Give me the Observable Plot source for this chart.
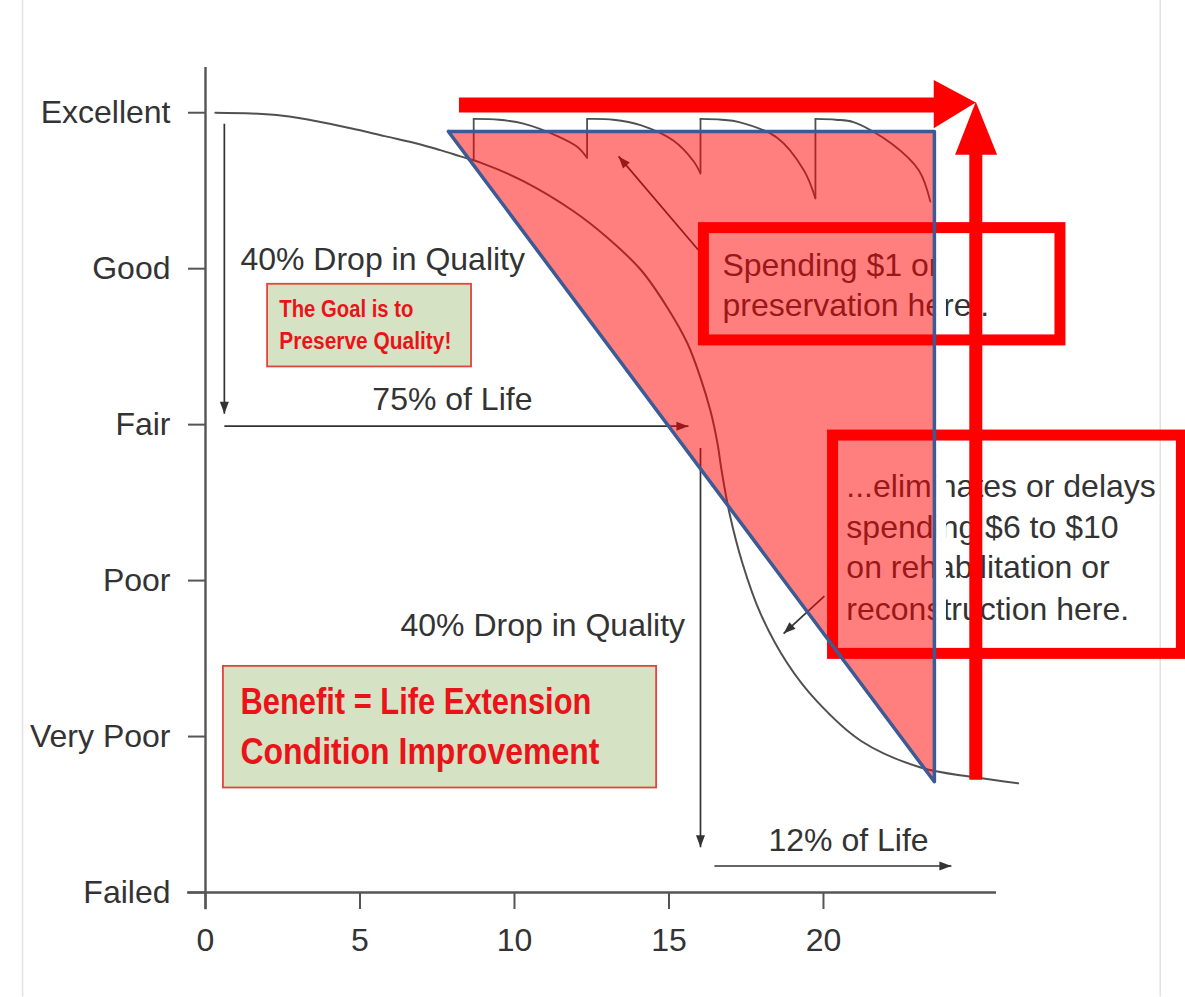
<!DOCTYPE html>
<html><head><meta charset="utf-8">
<script src="https://cdn.jsdelivr.net/npm/d3@7"></script>
<script src="https://cdn.jsdelivr.net/npm/@observablehq/plot@0.6"></script>
<style>body{margin:0;background:#fff;}</style>
</head><body><div id="chart"></div>
<script>
// ---- axes ----
const conditionTicks = [0, 1, 2, 3, 4, 5];
const conditionLabels = ["Failed", "Very Poor", "Poor", "Fair", "Good", "Excellent"];
const yearTicks = [0, 5, 10, 15, 20];

// ---- deterioration curve (years, condition) ----
const curveYears = [0.32, 1.5, 2.5, 3.6, 4.7, 5.8, 6.9, 7.6, 8.25, 8.9, 10.3, 11.9, 13.0, 14.1, 14.95, 15.6, 16.02, 16.34, 16.57, 16.7, 16.96, 17.38, 17.96, 18.83, 19.77, 21.23, 23.17, 24.85, 26.3];
const curveCondition = [5.0, 4.995, 4.98, 4.945, 4.9, 4.85, 4.8, 4.76, 4.72, 4.68, 4.56, 4.37, 4.2, 3.99, 3.75, 3.52, 3.3, 3.09, 2.88, 2.71, 2.43, 2.11, 1.79, 1.47, 1.23, 0.97, 0.8, 0.74, 0.7];

// ---- preservation cycles ----
const hump1Years = [8.68, 9.5, 10.29, 11.39, 12.04, 12.35];
const hump1Cond  = [4.96, 4.955, 4.93, 4.85, 4.78, 4.71];
const hump2Years = [12.35, 13.2, 14.08, 15.15, 15.79, 16.02];
const hump2Cond  = [4.96, 4.955, 4.92, 4.82, 4.69, 4.61];
const hump3Years = [16.02, 16.7, 17.27, 18.5, 19.37, 19.74];
const hump3Cond  = [4.96, 4.955, 4.94, 4.84, 4.63, 4.45];
const hump4Years = [19.74, 20.4, 20.97, 22.22, 23.09, 23.46];
const hump4Cond  = [4.96, 4.955, 4.94, 4.8, 4.63, 4.43];
const treatmentYears = [8.68, 12.35, 16.02, 19.74];
const treatmentFrom  = [4.69, 4.71, 4.61, 4.45];
const treatmentTo = 4.96;

// ---- annotation texts ----
const noteTexts = ["40% Drop in Quality", "75% of Life", "40% Drop in Quality", "12% of Life",
  "Spending $1 on", "preservation here..",
  "...eliminates or delays", "spending $6 to $10", "on rehabilitation or", "reconstruction here."];
const noteX = [1.13, 5.40, 6.31, 18.22, 16.73, 16.73, 20.74, 20.74, 20.74, 20.74];
const noteY = [4.06, 3.16, 1.71, 0.33, 4.02, 3.76, 2.60, 2.34, 2.08, 1.81];

const goalTexts = ["The Goal is to", "Preserve Quality!"];
const goalX = [2.39, 2.39];
const goalY = [3.74, 3.53];
const goalWidths = [134, 172];
const benefitTexts = ["Benefit = Life Extension", "Condition Improvement"];
const benefitX = [1.13, 1.13];
const benefitY = [1.22, 0.90];
const benefitWidths = [351, 359];

// thin arrows: x1,y1,x2,y2
const arrowX1 = [0.61, 0.61, 16.02, 16.47, 15.95, 20.03];
const arrowY1 = [4.93, 2.99, 2.85, 0.17, 4.12, 1.90];
const arrowX2 = [0.61, 15.63, 16.02, 24.14, 13.37, 18.71];
const arrowY2 = [3.07, 2.99, 0.29, 0.17, 4.72, 1.66];

// boxes x1,x2,y1,y2
const greenBoxes = [[2.01, 8.61, 3.37, 3.90], [0.58, 14.6, 0.67, 1.45]];
const redBoxes = [[16.13, 27.67, 3.54, 4.26], [20.31, 31.6, 1.53, 2.93]];

// benefit triangle
const triX = [7.86, 23.59, 23.59];
const triY = [4.88, 4.88, 0.71];

// ---- layout ----
const W = 1185, H = 997, mL = 205, mR = 189, mT = 67, mB = 105;
const xDomain = [0, 25.6], yDomain = [0, 5.29];
const kx = (W - mL - mR) / (xDomain[1] - xDomain[0]);
const ky = (H - mT - mB) / (yDomain[1] - yDomain[0]);

// ---- build tables ----
const curve = curveYears.map((x, i) => ({x, y: curveCondition[i]}));
const humps = [[hump1Years, hump1Cond], [hump2Years, hump2Cond], [hump3Years, hump3Cond], [hump4Years, hump4Cond]]
  .flatMap(([xs, ys], k) => xs.map((x, i) => ({x, y: ys[i], id: k})));
const treatments = treatmentYears.map((x, i) => ({x, y1: treatmentFrom[i], y2: treatmentTo}));
const notes = noteTexts.map((t, i) => ({t, x: noteX[i], y: noteY[i]}));
const goal = goalTexts.map((t, i) => ({t, x: goalX[i], y: goalY[i]}));
const benefit = benefitTexts.map((t, i) => ({t, x: benefitX[i], y: benefitY[i]}));
const arrows = arrowX1.map((x1, i) => ({x1, y1: arrowY1[i], x2: arrowX2[i], y2: arrowY2[i]}));
// filled arrowheads derived from each arrow's direction (pixel space)
const headL = 12, headW = 4.5;
const arrowHeads = arrows.flatMap((a, i) => {
  const dx = (a.x2 - a.x1) * kx, dy = -(a.y2 - a.y1) * ky;
  const len = Math.hypot(dx, dy), ux = dx / len, uy = dy / len;
  const bx = -ux * headL, by = -uy * headL;
  const pts = [[0, 0], [bx - uy * headW, by + ux * headW], [bx + uy * headW, by - ux * headW]];
  return pts.map(([px, py]) => ({x: a.x2 + px / kx, y: a.y2 - py / ky, id: i}));
});
const boxRows = b => b.map(([x1, x2, y1, y2]) => ({x1, x2, y1, y2}));
const triArea = [{x: triX[0], y1: triY[0], y2: triY[0]}, {x: triX[1], y1: triY[2], y2: triY[1]}];
const triOutline = [0, 1, 2, 0].map(i => ({x: triX[i], y: triY[i]}));
const redHeads = [
  {x: 23.57, y: 5.21, id: "h"}, {x: 24.93, y: 5.066, id: "h"}, {x: 23.57, y: 4.90, id: "h"},
  {x: 24.26, y: 4.73, id: "v"}, {x: 24.93, y: 5.07, id: "v"}, {x: 25.62, y: 4.73, id: "v"}
];

const bodyFont = "'Liberation Sans', Arial, sans-serif";
const ink = "#333";

const chart = Plot.plot({
  width: W, height: H,
  marginLeft: mL, marginRight: mR, marginTop: mT, marginBottom: mB,
  x: {domain: xDomain},
  y: {domain: yDomain},
  style: {fontFamily: bodyFont, fontSize: "32px", color: ink, background: "#fff", overflow: "visible"},
  marks: [
    Plot.ruleX([-5.92, 30.9], {y1: -0.67, y2: 5.72, stroke: "#e2e2e2", strokeWidth: 1.5}),
    Plot.rect(boxRows(greenBoxes), {x1: "x1", x2: "x2", y1: "y1", y2: "y2", fill: "#d6e2c4", stroke: "#e2453a", strokeWidth: 1.8}),
    Plot.text(goal, {x: "x", y: "y", text: "t", textAnchor: "start", fill: "#e8141a", fontWeight: "bold", fontSize: 23, fontFamily: bodyFont}),
    Plot.text(benefit, {x: "x", y: "y", text: "t", textAnchor: "start", fill: "#e8141a", fontWeight: "bold", fontSize: 37, fontFamily: bodyFont}),
    Plot.axisY({ticks: conditionTicks, tickFormat: d => conditionLabels[d], tickSize: 17, tickPadding: 18, fontSize: 32, stroke: "#555", strokeWidth: 2, fill: ink, label: null}),
    Plot.axisX({ticks: yearTicks, tickSize: 17, tickPadding: 19, fontSize: 32, stroke: "#555", strokeWidth: 2, fill: ink, label: null}),
    Plot.ruleY([0], {x1: -0.58, x2: 25.6, stroke: "#555", strokeWidth: 2.4}),
    Plot.ruleX([0], {y1: -0.11, y2: 5.29, stroke: "#555", strokeWidth: 2.4}),
    Plot.line(curve, {x: "x", y: "y", stroke: "#505050", strokeWidth: 2, curve: "catmull-rom"}),
    Plot.line(humps, {x: "x", y: "y", z: "id", stroke: "#505050", strokeWidth: 1.8, curve: "catmull-rom"}),
    Plot.ruleX(treatments, {x: "x", y1: "y1", y2: "y2", stroke: "#505050", strokeWidth: 1.8}),
    Plot.link(arrows, {x1: "x1", y1: "y1", x2: "x2", y2: "y2", stroke: ink, strokeWidth: 1.7}),
    Plot.line(arrowHeads, {x: "x", y: "y", z: "id", fill: ink, stroke: "none"}),
    Plot.text(notes, {x: "x", y: "y", text: "t", textAnchor: "start", fill: ink, fontSize: 32}),
    Plot.rect([{x1: 23.66, x2: 23.98, y1: 1.6, y2: 4.2}], {x1: "x1", x2: "x2", y1: "y1", y2: "y2", fill: "#fff"}),
    Plot.rect(boxRows(redBoxes), {x1: "x1", x2: "x2", y1: "y1", y2: "y2", fill: "none", stroke: "#ff0000", strokeWidth: 11}),
    Plot.areaY(triArea, {x: "x", y1: "y1", y2: "y2", fill: "#ff0000", fillOpacity: 0.5}),
    Plot.line(triOutline, {x: "x", y: "y", stroke: "#3c5a95", strokeWidth: 3.5}),
    Plot.ruleY([5.05], {x1: 8.22, x2: 23.7, stroke: "#ff0000", strokeWidth: 15}),
    Plot.ruleX([24.93], {y1: 0.72, y2: 4.75, stroke: "#ff0000", strokeWidth: 13}),
    Plot.line(redHeads, {x: "x", y: "y", z: "id", fill: "#ff0000", stroke: "none"})
  ]
});
// condensed bold labels (the original uses a condensed face)
const labelWidths = new Map([...goalTexts.map((t, i) => [t, goalWidths[i]]), ...benefitTexts.map((t, i) => [t, benefitWidths[i]])]);
d3.select(chart).selectAll("text").each(function () {
  const w = labelWidths.get(this.textContent.trim());
  if (w) {
    this.setAttribute("textLength", w);
    this.setAttribute("lengthAdjust", "spacingAndGlyphs");
    this.querySelectorAll("tspan").forEach(s => { s.setAttribute("textLength", w); s.setAttribute("lengthAdjust", "spacingAndGlyphs"); });
  }
});
document.getElementById("chart").appendChild(chart);
</script>
</body></html>
